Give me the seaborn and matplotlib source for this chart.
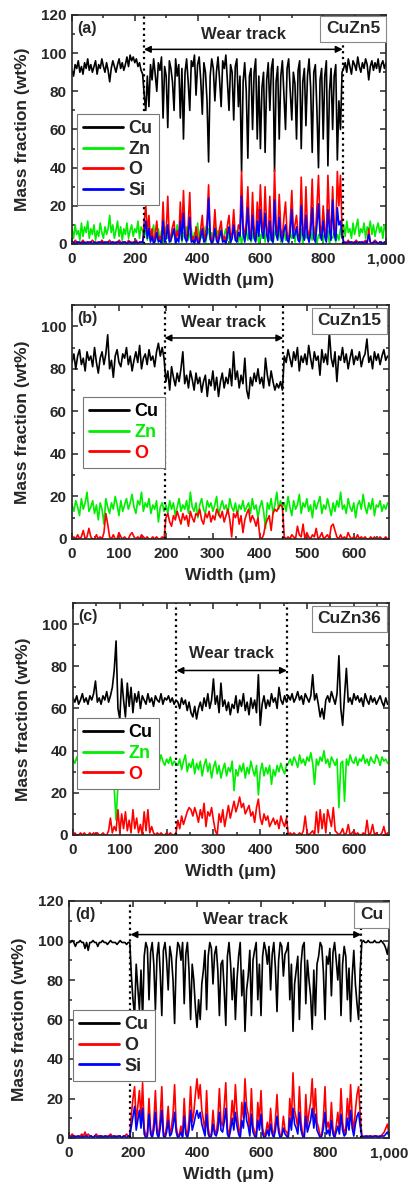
import numpy as np
import pandas as pd
import seaborn as sns
import matplotlib.pyplot as plt
from matplotlib.ticker import AutoMinorLocator, FuncFormatter

sns.set_style("ticks")
plt.rcParams['font.family'] = ['Liberation Sans', 'DejaVu Sans']
plt.rcParams['font.weight'] = 'bold'

# ---- panel (a) CuZn5, width 0..1000 step 5 (rows: before / inside / after wear track)
x_a = np.arange(0, 1001, 5)
cu_a = [91,88,94,92,96,90,93,89,95,92, 97,91,94,90,93,96,89,94,92,97, 93,90,95,91,85,92,96,93,90,94,
        97,92,95,91,94,98,93,99,96,98, 95,97,93,95,91,89,
        78,70,88,72,94,86,97,89,80,95, 91,98,66,93,88,61,96,92,85,70, 97,88,94,66,92,55,90,97,85,70,
        96,93,99,78,94,98,86,68,95,90, 75,43,88,97,92,75,90,98,86,72, 96,92,99,85,70,94,90,65,93,97,
        72,88,38,85,95,80,45,88,92,60, 90,97,55,88,50,82,90,48,86,95, 70,92,97,38,85,93,55,88,96,78,
        60,92,97,80,65,90,84,55,91,96, 50,85,92,62,88,97,82,48,90,94, 70,40,86,92,55,88,96,41,80,92,
        60,88,94,44,75,60,90,
        92,95,90,97,93,89,96,94,91,98, 93,90,95,92,97,94,86,93,96,91, 95,92,97,90,94,96,92,95]
zn_a = [8,3,10,5,7,2,11,4,9,6, 12,3,8,5,10,2,7,4,11,6, 3,9,5,8,15,6,10,3,7,12, 4,9,2,8,5,11,3,7,10,4,
        8,6,12,3,9,7,
        4,7,2,9,3,6,10,1,5,8, 2,7,0,4,9,3,6,1,8,5, 2,10,4,7,1,6,3,9,2,5, 8,1,6,4,11,2,7,3,9,0,
        5,8,2,6,1,10,4,7,3,9, 1,5,8,2,6,0,4,9,3,7, 1,5,0,6,3,8,2,7,1,4, 9,2,6,0,5,3,8,1,7,4,
        2,6,0,5,9,3,7,1,4,8, 2,6,0,5,3,9,1,7,4,2, 8,0,5,3,7,1,6,2,9,4, 0,5,3,8,1,6,2,7,0,4,
        3,6,1,5,2,8,3,
        10,4,12,6,8,3,11,5,9,13, 4,8,6,11,3,9,7,12,5,10, 4,8,11,6,9,3,10,7]
o_a = [1,0,2,1,1,0,1,2,0,1, 1,0,1,2,1,0,1,1,0,2, 1,1,0,1,2,0,1,1,0,1, 2,1,0,1,1,0,2,1,1,0,
       1,2,0,1,1,1,
       12,20,6,15,2,8,1,5,12,2, 4,1,22,3,6,25,2,4,9,12, 1,7,3,22,4,28,6,2,10,27,
       2,4,1,9,3,1,8,15,2,5, 12,31,6,1,4,18,5,1,8,12, 2,4,1,10,15,3,6,18,4,2,
       10,8,38,10,3,12,30,7,4,27, 6,2,22,9,31,12,6,30,9,3, 25,5,2,39,10,4,26,8,3,14,
       22,5,2,12,28,6,10,15,5,2, 35,9,4,30,8,2,12,34,6,3, 20,36,10,5,20,8,3,36,14,5,
       30,9,4,38,20,36,8,
       1,0,1,2,0,1,1,0,2,1, 1,0,1,1,2,0,8,1,0,1, 2,1,0,1,1,0,1,1]
si_a = [1,1,0,1,1,1,0,1,1,0, 1,1,1,0,1,1,0,1,1,1, 0,1,1,1,0,1,1,0,1,1, 1,0,1,1,1,0,1,1,0,1,
        1,1,0,1,1,1,
        6,12,3,8,1,4,0,2,6,1, 2,0,12,1,3,10,1,2,5,8, 0,3,1,12,2,16,3,1,5,14,
        1,2,0,4,1,0,4,8,1,2, 6,24,3,0,2,8,2,0,4,7, 1,2,0,5,9,1,3,10,2,1,
        6,4,25,6,1,7,19,3,2,15, 3,1,12,4,18,6,3,16,5,1, 12,2,1,23,5,2,14,4,1,7,
        10,2,1,6,18,3,5,9,2,1, 20,5,2,15,4,1,6,19,3,1, 10,21,5,2,12,4,1,18,7,2,
        23,5,2,19,10,12,4,
        1,1,0,1,1,1,0,1,1,0, 1,1,1,0,1,1,5,1,0,1, 1,1,0,1,1,0,1,1]

# ---- panel (b) CuZn15, width 0..672 step 4
x_b = np.arange(0, 673, 4)
cu_b = [83,87,80,86,89,82,85,79,88,84, 86,81,90,83,78,85,88,82,87,96, 80,84,76,86,89,83,81,87,85,90,
        82,86,79,84,88,83,91,80,85,87, 82,89,84,86,81,88,92,86,90,85,
        74,79,70,81,76,72,78,74,80,88, 73,77,71,79,75,70,78,73,76,69, 74,77,67,75,72,79,70,76,67,74,
        78,71,76,73,80,72,88,75,79,71, 77,73,85,70,66,76,72,78,74,80, 73,76,71,85,77,72,79,74,70,73,
        71,74,70,
        86,83,89,85,81,88,84,90,79,86, 83,87,82,91,85,80,88,84,86,77, 89,83,87,82,97,85,81,88,74,86,
        84,90,83,87,80,85,89,82,86,84, 88,81,85,87,94,83,86,80,88,84, 87,82,86,89,84,86]
zn_b = [16,13,18,15,11,19,14,17,22,13, 15,18,12,16,9,17,14,7,19,15, 12,17,14,20,16,11,18,13,16,19,
        14,17,21,15,12,18,16,22,13,17, 15,19,12,16,14,18,8,15,17,13,
        16,12,18,14,17,11,15,19,13,16, 14,18,12,22,15,13,17,10,16,19, 14,12,18,15,17,13,16,20,11,15,
        18,14,16,12,19,15,13,17,11,16, 14,18,13,15,17,12,19,14,16,10, 15,18,13,5,17,14,19,12,16,22,
        14,18,15,
        17,13,20,15,11,18,14,16,21,12, 17,15,19,13,16,10,18,14,17,20, 12,16,14,19,15,11,17,13,18,15,
        22,14,16,12,19,15,13,17,10,16, 18,14,21,15,12,17,14,19,11,16, 15,18,13,16,14,17]
o_b = [0,1,0,2,0,1,4,0,1,5, 1,0,0,2,0,1,0,3,12,7, 1,0,2,0,0,3,1,0,1,0,
       0,2,3,1,0,1,0,2,1,0, 1,0,0,1,0,1,0,0,1,0,
       10,12,8,6,11,9,13,10,7,12, 9,11,6,13,10,8,12,11,14,9, 7,12,10,13,8,11,9,14,12,10,
       13,8,11,14,9,1,12,10,13,7, 11,3,9,12,14,8,11,9,6,10, 1,0,2,7,9,11,4,12,14,13,
       15,16,15,
       1,0,1,0,2,1,0,6,2,1, 7,0,3,1,0,2,1,5,0,1, 3,0,1,2,0,6,7,4,1,0,
       2,0,1,0,3,1,0,1,0,2, 0,1,0,1,0,0,1,0,1,0, 0,1,0,0,1,0]

# ---- panel (c) CuZn36, width 0..672 step 4
x_c = np.arange(0, 673, 4)
cu_c = [65,63,66,62,64,67,63,65,62,66, 64,67,73,63,65,62,66,64,68,63, 66,70,78,92,60,55,74,64,56,72,
        61,70,58,67,63,68,60,66,64,62, 67,63,65,61,66,64,63,67,62,65, 64,66,63,65,62,64,
        63,60,65,62,64,59,63,58,56,61, 55,60,63,59,65,61,67,60,64,74, 62,66,58,72,61,64,59,63,57,62,
        60,66,58,64,61,67,59,63,57,65, 60,64,58,76,52,62,66,60,64,61, 67,63,65,60,70,64,62,66,63,
        66,64,67,63,65,68,64,66,62,67, 65,63,66,76,64,67,62,56,60,55, 64,66,63,68,65,62,67,85,60,52,
        66,79,63,65,62,67,64,66,63,65, 61,67,64,62,66,63,65,62,64,66, 63,61,65,62]
zn_c = [36,34,37,33,35,38,32,36,34,37, 33,35,31,36,34,38,33,35,30,34, 32,28,22,7,24,33,36,31,35,38,
        33,36,32,37,34,39,35,32,36,34, 38,33,35,37,32,36,34,38,35,33, 36,34,37,33,35,34,
        33,36,31,35,38,30,34,32,36,29, 34,31,35,28,33,36,30,34,27,32, 35,29,33,27,31,34,28,32,30,35,
        21,31,28,33,30,34,27,32,29,35, 31,28,33,19,30,34,28,32,29,33, 24,31,28,33,30,34,31,29,33,
        34,36,33,37,35,32,38,34,36,33, 37,35,39,34,24,36,33,37,35,40, 34,36,32,37,35,33,36,13,34,35,
        16,36,33,38,35,34,37,33,36,35, 38,34,36,33,37,35,34,38,36,33, 37,35,36,34]
o_c = [0,1,0,0,1,0,1,0,0,1, 0,1,0,1,0,0,1,0,0,2, 8,1,4,2,12,1,10,3,11,2,
       7,1,12,3,8,1,5,0,11,2, 12,1,4,1,0,1,0,1,0,0, 1,0,1,0,0,1,
       7,3,9,5,8,11,13,12,9,13, 10,6,12,8,15,4,11,9,13,7, 2,0,10,6,12,4,9,14,8,12,
       16,11,14,18,13,15,10,12,14,9, 11,6,13,17,8,5,10,7,9,4, 6,8,5,7,3,9,6,4,8,
       0,1,0,1,0,0,1,0,2,9, 1,0,1,2,0,11,1,12,3,10, 1,12,8,4,13,2,1,0,1,3,
       0,1,5,0,1,2,0,1,0,0, 1,0,7,0,1,5,0,1,0,0, 1,4,0,1]

# ---- panel (d) Cu, width 0..1000 step 5
x_d = np.arange(0, 1001, 5)
cu_d = [99,99,100,99,97,99,99,100,99,99, 96,99,95,99,99,100,99,99,97,99, 99,100,99,99,98,99,100,99,99,99,
        98,99,100,99,99,99,98,99,99,
        82,70,62,88,76,65,85,60,92,99, 96,70,94,99,88,65,92,99,84,62, 95,99,90,75,97,92,80,58,90,99,
        97,90,99,68,93,99,85,60,88,80, 66,56,70,60,78,85,95,65,92,99, 96,78,93,97,85,62,88,90,75,57,
        92,99,88,70,86,60,80,92,99,72, 85,54,75,82,95,62,90,95,99,70, 88,62,92,99,95,88,97,75,93,99,
        86,64,90,99,97,82,93,95,99,70, 88,54,78,85,92,60,88,97,99,68, 90,80,72,55,85,62,88,92,99,97,
        84,60,92,88,96,72,94,99,90,80, 93,62,88,97,92,70,86,59,82,95, 78,68,60,85,
        99,100,99,99,100,99,99,99,100,99, 99,99,100,99,98,96,93,99]
o_d = [1,1,2,1,1,0,1,1,2,1, 3,1,2,1,1,0,1,2,1,1, 1,1,0,1,1,1,2,1,1,0, 1,1,1,0,1,1,2,1,1,
       12,20,26,8,16,24,10,28,5,1, 3,20,4,1,8,24,5,1,10,26, 3,1,6,16,2,5,12,27,6,1,
       2,6,1,20,4,1,9,26,8,13, 22,30,20,27,14,9,3,24,5,1, 2,14,4,2,9,25,8,6,16,28,
       5,1,8,19,9,27,13,5,1,18, 10,30,16,12,3,25,6,3,1,18, 8,24,5,1,3,8,2,15,4,1,
       9,22,6,1,2,11,4,3,1,20, 8,33,14,10,5,26,8,2,1,22, 6,13,18,30,10,25,8,5,1,2,
       10,26,5,8,3,18,4,1,6,13, 4,25,8,2,5,20,9,27,11,3, 14,22,26,12,
       1,1,0,1,1,1,0,1,1,1, 1,0,1,2,3,5,7,2]
si_d = [1,0,1,1,0,1,1,0,1,0, 1,1,0,1,1,0,1,1,0,1, 1,0,1,1,0,1,1,0,1,1, 0,1,1,0,1,1,0,1,1,
        6,11,16,4,9,14,5,15,2,0, 1,12,2,0,4,13,2,0,5,14, 1,0,3,9,1,2,6,13,3,0,
        1,3,0,11,2,0,4,14,4,7, 11,14,10,13,7,4,1,12,2,0, 1,7,2,1,4,13,4,3,8,15,
        2,0,4,10,4,13,6,2,0,9, 5,18,9,6,1,12,3,1,0,9, 4,12,2,0,1,4,1,7,2,0,
        4,11,3,0,1,5,2,1,0,10, 4,15,7,5,2,13,4,1,0,11, 3,6,9,15,5,12,4,2,0,1,
        5,13,2,4,1,9,2,0,3,6, 2,12,4,1,2,10,4,14,5,1, 7,11,13,6,
        1,0,1,1,0,1,1,0,1,1, 0,1,1,1,1,2,3,1]

colors = {'Cu': 'black', 'Zn': '#00ee00', 'O': '#ff0000', 'Si': '#0000ff'}

panels = [
    dict(tag='(a)', name='CuZn5', x=x_a, series=[('Cu', cu_a), ('Zn', zn_a), ('O', o_a), ('Si', si_a)],
         xlim=1000, xstep=200, ylim=120, track=(229, 862), arrow_y=102, text_y=110,
         rect=(72, 386, 15, 244), leg=(0.016, 0.568), color_text=False, box_off=0),
    dict(tag='(b)', name='CuZn15', x=x_b, series=[('Cu', cu_b), ('Zn', zn_b), ('O', o_b)],
         xlim=675, xstep=100, ylim=110, track=(197, 450), arrow_y=94.5, text_y=102,
         rect=(72, 389, 305, 539), leg=(0.035, 0.607), color_text=True, box_off=1.5),
    dict(tag='(c)', name='CuZn36', x=x_c, series=[('Cu', cu_c), ('Zn', zn_c), ('O', o_c)],
         xlim=675, xstep=100, ylim=110, track=(221, 457), arrow_y=78, text_y=86,
         rect=(73, 389, 603, 835), leg=(0.013, 0.504), color_text=True, box_off=1.5),
    dict(tag='(d)', name='Cu', x=x_d, series=[('Cu', cu_d), ('O', o_d), ('Si', si_d)],
         xlim=1000, xstep=200, ylim=120, track=(192, 913), arrow_y=103, text_y=110.5,
         rect=(69, 389, 901, 1138), leg=(0.0125, 0.54), color_text=False, box_off=0),
]

W, H = 411, 1186
fig = plt.figure(figsize=(W / 100, H / 100), dpi=100)

for p in panels:
    l, r, t, b = p['rect']
    ax = fig.add_axes([l / W, 1 - b / H, (r - l) / W, (b - t) / H])
    for name, vals in p['series']:
        sns.lineplot(x=p['x'], y=vals, ax=ax, color=colors[name], lw=1.2, label=name)

    ax.set_xlim(0, p['xlim'])
    ax.set_ylim(0, p['ylim'])
    ax.set_xticks(np.arange(0, p['xlim'] + 1, p['xstep']))
    ax.set_yticks(np.arange(0, p['ylim'] + 1, 20))
    ax.xaxis.set_minor_locator(AutoMinorLocator(2))
    ax.yaxis.set_minor_locator(AutoMinorLocator(2))
    ax.xaxis.set_major_formatter(FuncFormatter(lambda v, pos: f"{v:,.0f}"))
    ax.tick_params(which='both', direction='in', top=True, right=True, width=1.1)
    ax.tick_params(which='major', length=4, labelsize=11, pad=4)
    ax.tick_params(axis='x', which='major', pad=6)
    ax.tick_params(which='minor', length=2.5)
    for s in ax.spines.values():
        s.set_linewidth(1.2)
    ax.set_xlabel('Width (μm)', fontsize=12.5, fontweight='bold', labelpad=5)
    ax.set_ylabel('Mass fraction (wt%)', fontsize=12.5, fontweight='bold', labelpad=8)

    # wear track markers
    x0, x1 = p['track']
    for xv in (x0, x1):
        ax.axvline(xv, color='black', lw=1.6, ls=(0, (1, 1.6)))
    ax.annotate('', xy=(x1, p['arrow_y']), xytext=(x0, p['arrow_y']),
                arrowprops=dict(arrowstyle='<|-|>', color='black', lw=1.1, mutation_scale=10,
                                shrinkA=0, shrinkB=0))
    ax.text((x0 + x1) / 2, p['text_y'], 'Wear track', ha='center', va='center',
            fontsize=12, fontweight='bold')

    ax.text(0.018, 0.975, p['tag'], transform=ax.transAxes, ha='left', va='top',
            fontsize=11.5, fontweight='bold')
    off = p['box_off']
    ax.annotate(p['name'], xy=(1, 1), xycoords='axes fraction',
                xytext=(-4.2 - off, -4.6 - off), textcoords='offset points',
                ha='right', va='top', fontsize=12.5, fontweight='bold',
                bbox=dict(boxstyle='square,pad=0.32', fc='white', ec='#888888', lw=0.8))

    leg = ax.legend(loc='upper left', bbox_to_anchor=p['leg'], fontsize=13, frameon=True,
                    fancybox=False, framealpha=1, edgecolor='#777777', handlelength=2.2,
                    handletextpad=0.3, labelspacing=0.2, borderpad=0.35, borderaxespad=0)
    leg.get_frame().set_linewidth(0.8)
    for txt, (name, _) in zip(leg.get_texts(), p['series']):
        txt.set_fontweight('bold')
        if p['color_text']:
            txt.set_color(colors[name])
    for line in leg.get_lines():
        line.set_linewidth(2)

fig.savefig('out.png', dpi=100)
